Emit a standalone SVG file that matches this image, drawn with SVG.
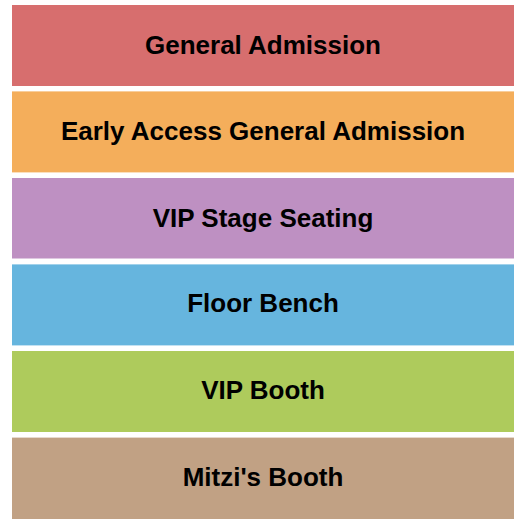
<svg xmlns="http://www.w3.org/2000/svg" width="525" height="525" viewBox="0 0 525 525">
<style>
.sec{stroke:none}
.lbl{font-family:"Liberation Sans",Arial,sans-serif;font-weight:bold;font-size:26px;fill:#000;text-anchor:middle}
</style>
<rect width="525" height="525" fill="#fff"/>
<g id="general-admission"><rect class="sec" x="12" y="5" width="502" height="81" fill="#D76E6E"/><text class="lbl" x="263" y="53.6">General Admission</text></g>
<g id="early-access"><rect class="sec" x="12" y="91.4" width="502" height="81" fill="#F4AE5B"/><text class="lbl" x="263" y="140.3">Early Access General Admission</text></g>
<g id="vip-stage"><rect class="sec" x="12" y="178" width="502" height="80.5" fill="#BE90C2"/><text class="lbl" x="263" y="227">VIP Stage Seating</text></g>
<g id="floor-bench"><rect class="sec" x="12" y="264.4" width="502" height="81" fill="#66B5DE"/><text class="lbl" x="263" y="312.3">Floor Bench</text></g>
<g id="vip-booth"><rect class="sec" x="12" y="351" width="502" height="81" fill="#AECB5C"/><text class="lbl" x="263" y="399.3">VIP Booth</text></g>
<g id="mitzis-booth"><rect class="sec" x="12" y="437.6" width="502" height="81.4" fill="#C1A184"/><text class="lbl" x="263" y="486.3">Mitzi's Booth</text></g>
<g id="connectors"/>
</svg>
